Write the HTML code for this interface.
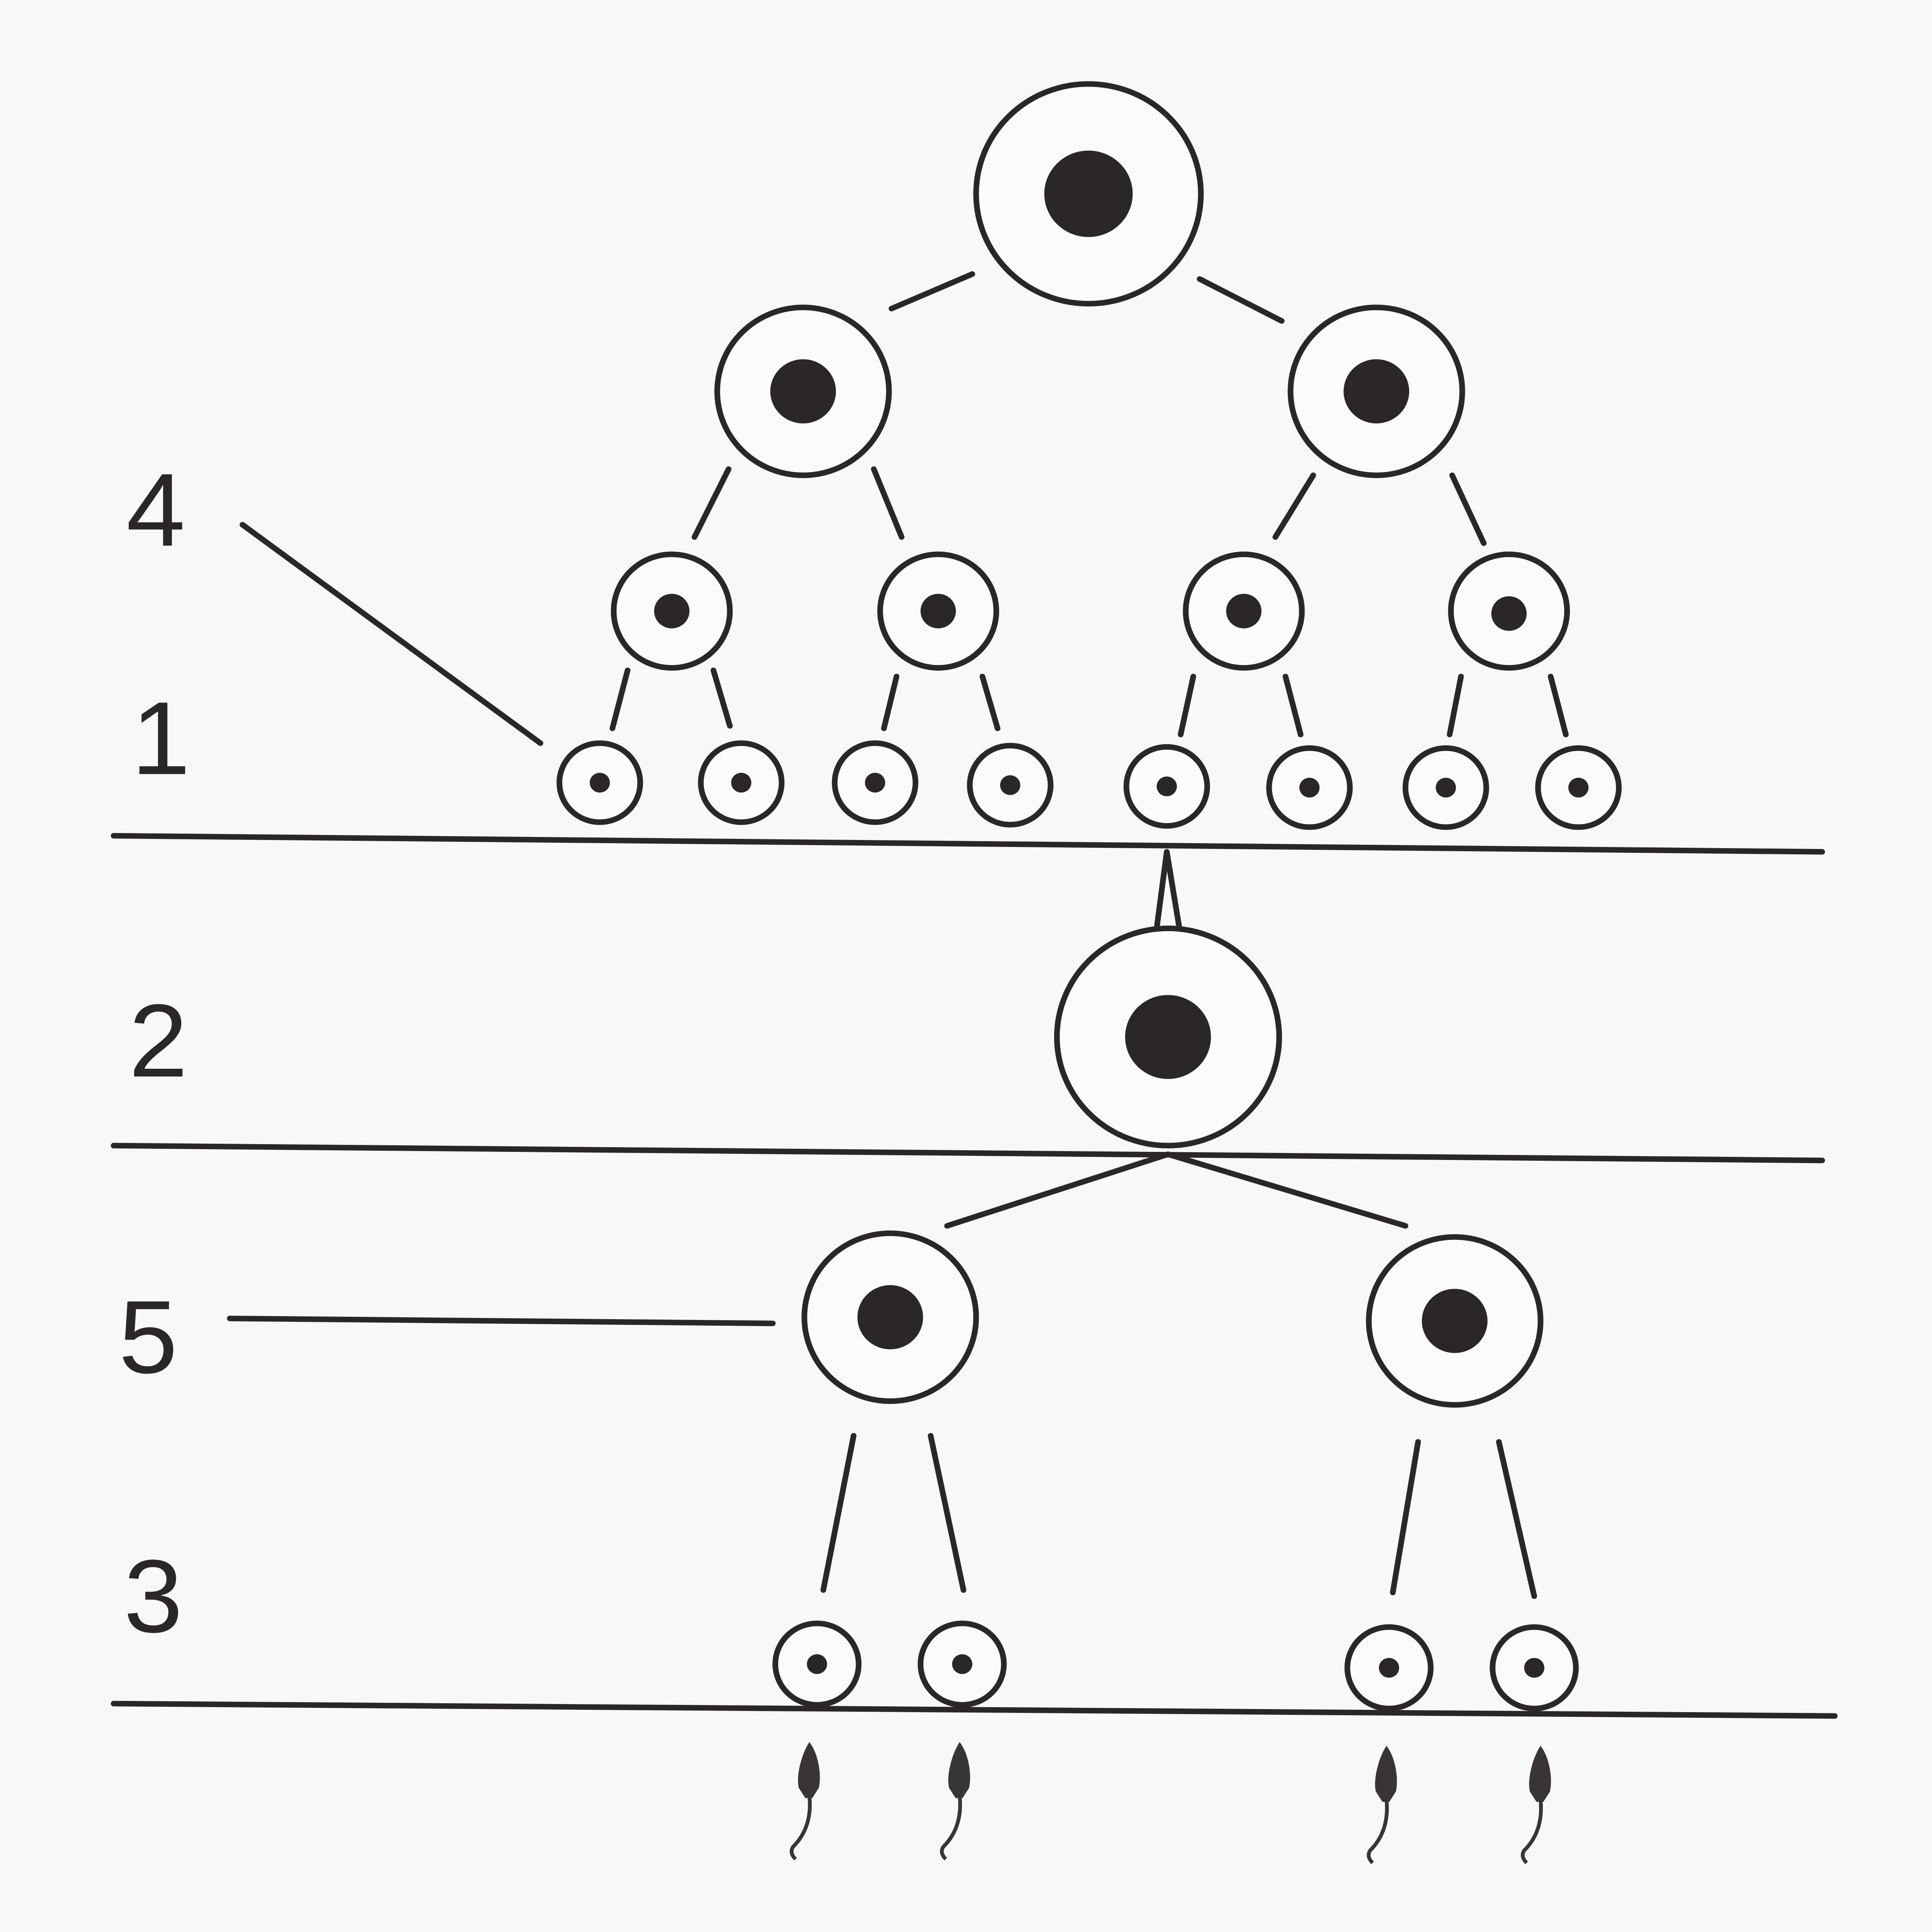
<!DOCTYPE html>
<html><head><meta charset="utf-8"><style>
html,body{margin:0;padding:0;background:#f8f8f7;width:100%;height:100%;overflow:hidden;}
svg{display:block;position:absolute;left:0;top:0;width:100vw;height:100vh;}
text{font-family:"Liberation Sans",sans-serif;fill:#2b2727;}
</style></head><body>
<svg viewBox="0 0 1530 1565" preserveAspectRatio="none" xmlns="http://www.w3.org/2000/svg">
<rect width="1530" height="1565" fill="#f8f8f7"/>
<g stroke="#2b2727" stroke-width="4.5" fill="none" stroke-linecap="round">
<line x1="90" y1="677" x2="1443" y2="690"/>
<line x1="90" y1="928" x2="1443" y2="940"/>
<line x1="90" y1="1380" x2="1453" y2="1390"/>
<line x1="192" y1="425" x2="428" y2="602"/>
<line x1="182" y1="1068" x2="612" y2="1072"/>
<line x1="770" y1="222" x2="706" y2="250"/>
<line x1="950" y1="226" x2="1015" y2="260"/>
<line x1="577" y1="380" x2="550" y2="435"/>
<line x1="692" y1="380" x2="714" y2="435"/>
<line x1="1040" y1="385" x2="1010" y2="435"/>
<line x1="1150" y1="385" x2="1175" y2="440"/>
<line x1="497" y1="543" x2="485" y2="590"/>
<line x1="565" y1="543" x2="578" y2="588"/>
<line x1="710" y1="548" x2="700" y2="590"/>
<line x1="778" y1="548" x2="790" y2="590"/>
<line x1="945" y1="548" x2="935" y2="595"/>
<line x1="1018" y1="548" x2="1030" y2="595"/>
<line x1="1157" y1="548" x2="1148" y2="595"/>
<line x1="1228" y1="548" x2="1240" y2="595"/>
<line x1="924" y1="690" x2="916" y2="752"/>
<line x1="924" y1="690" x2="934" y2="752"/>
<line x1="925" y1="935" x2="750" y2="993"/>
<line x1="925" y1="935" x2="1113" y2="993"/>
<line x1="676" y1="1163" x2="652" y2="1288"/>
<line x1="737" y1="1163" x2="763" y2="1288"/>
<line x1="1123" y1="1168" x2="1103" y2="1290"/>
<line x1="1187" y1="1168" x2="1215" y2="1293"/>
</g>
<g stroke="#2b2727" stroke-width="4.5" fill="#fbfbfa">
<circle cx="862" cy="157" r="89"/>
<circle cx="636" cy="317" r="68"/>
<circle cx="1090" cy="317" r="68"/>
<circle cx="532" cy="495" r="46"/>
<circle cx="743" cy="495" r="46"/>
<circle cx="985" cy="495" r="46"/>
<circle cx="1195" cy="495" r="46"/>
<circle cx="475" cy="634" r="32"/>
<circle cx="587" cy="634" r="32"/>
<circle cx="693" cy="634" r="32"/>
<circle cx="800" cy="636" r="32"/>
<circle cx="924" cy="637" r="32"/>
<circle cx="1037" cy="638" r="32"/>
<circle cx="1145" cy="638" r="32"/>
<circle cx="1250" cy="638" r="32"/>
<circle cx="925" cy="840" r="88"/>
<circle cx="705" cy="1067" r="68"/>
<circle cx="1152" cy="1070" r="68"/>
<circle cx="647" cy="1348" r="33"/>
<circle cx="762" cy="1348" r="33"/>
<circle cx="1100" cy="1351" r="33"/>
<circle cx="1215" cy="1351" r="33"/>
</g>
<g fill="#2b2727">
<circle cx="862" cy="157" r="35"/>
<circle cx="636" cy="317" r="26"/>
<circle cx="1090" cy="317" r="26"/>
<circle cx="532" cy="495" r="14"/>
<circle cx="743" cy="495" r="14"/>
<circle cx="985" cy="495" r="14"/>
<circle cx="1195" cy="497" r="14"/>
<circle cx="475" cy="634" r="8"/>
<circle cx="587" cy="634" r="8"/>
<circle cx="693" cy="634" r="8"/>
<circle cx="800" cy="636" r="8"/>
<circle cx="924" cy="637" r="8"/>
<circle cx="1037" cy="638" r="8"/>
<circle cx="1145" cy="638" r="8"/>
<circle cx="1250" cy="638" r="8"/>
<circle cx="925" cy="840" r="34"/>
<circle cx="705" cy="1067" r="26"/>
<circle cx="1152" cy="1070" r="26"/>
<circle cx="647" cy="1348" r="8"/>
<circle cx="762" cy="1348" r="8"/>
<circle cx="1100" cy="1351" r="8"/>
<circle cx="1215" cy="1351" r="8"/>
</g>
<g fill="#3a3535" stroke="#3a3535">
<g transform="translate(641,0)"><path d="M0,1412 C7,1422 9,1438 7,1448 L2,1456 L-3,1456 L-8,1448 C-10,1438 -6,1422 0,1412 Z" stroke-width="1"/><path d="M0,1455 C2,1475 -5,1488 -13,1496 Q-16,1501 -11,1506" fill="none" stroke-width="3"/></g>
<g transform="translate(760,0)"><path d="M0,1412 C7,1422 9,1438 7,1448 L2,1456 L-3,1456 L-8,1448 C-10,1438 -6,1422 0,1412 Z" stroke-width="1"/><path d="M0,1455 C2,1475 -5,1488 -13,1496 Q-16,1501 -11,1506" fill="none" stroke-width="3"/></g>
<g transform="translate(1098,3)"><path d="M0,1412 C7,1422 9,1438 7,1448 L2,1456 L-3,1456 L-8,1448 C-10,1438 -6,1422 0,1412 Z" stroke-width="1"/><path d="M0,1455 C2,1475 -5,1488 -13,1496 Q-16,1501 -11,1506" fill="none" stroke-width="3"/></g>
<g transform="translate(1220,3)"><path d="M0,1412 C7,1422 9,1438 7,1448 L2,1456 L-3,1456 L-8,1448 C-10,1438 -6,1422 0,1412 Z" stroke-width="1"/><path d="M0,1455 C2,1475 -5,1488 -13,1496 Q-16,1501 -11,1506" fill="none" stroke-width="3"/></g>
</g>
<g font-size="84">
<text x="100" y="442">4</text>
<text x="104" y="627">1</text>
<text x="102" y="872">2</text>
<text x="94" y="1112">5</text>
<text x="98" y="1322">3</text>
</g>
</svg>
</body></html>
